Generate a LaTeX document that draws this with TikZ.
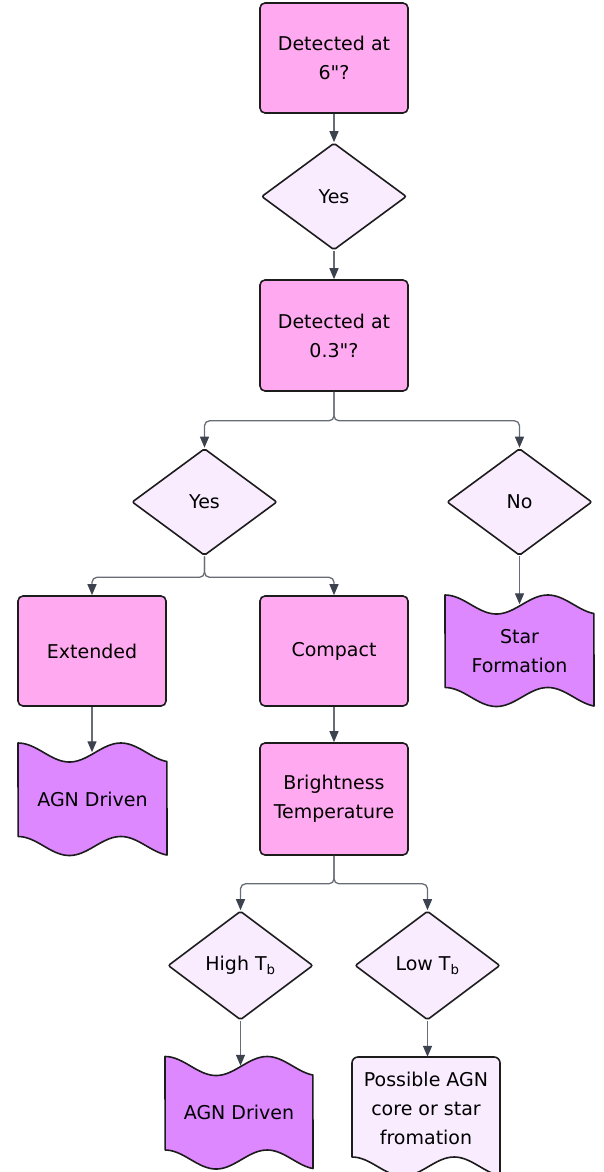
\documentclass[tikz,border=0pt]{standalone}
\usepackage{fontspec}
\setmainfont{DejaVu Sans}
\usetikzlibrary{arrows.meta,shapes.geometric}
\definecolor{boxPink}{RGB}{255,170,240}
\definecolor{choiceLilac}{RGB}{249,236,255}
\definecolor{endPurple}{RGB}{221,136,255}
\definecolor{edgeGrey}{RGB}{104,108,116}
\definecolor{tipGrey}{RGB}{60,66,78}
\definecolor{outline}{RGB}{28,28,28}

% paper tape: left, right, top wave centre, bottom wave centre, fill
\newcommand\tapeshape[5]{%
  \filldraw[tapeline, fill=#5]
    plot[domain=0:1, samples=60, variable=\t] ({#1+\t*(#2-#1)},{#3-9.5*cos(360*\t/0.69)})
    -- plot[domain=1:0, samples=60, variable=\t] ({#1+\t*(#2-#1)},{#4-9.5*cos(360*\t/0.69)})
    -- cycle;}

\begin{document}
\begin{tikzpicture}[x=1pt, y=-1pt, >={Triangle[length=11pt,width=9pt,color=tipGrey]},
  font=\fontsize{19}{29}\selectfont,
  qbox/.style={rounded corners=5pt, draw=outline, line width=1.6pt, fill=boxPink,
     minimum width=148pt, minimum height=110pt, align=center},
  choice/.style={diamond, rounded corners=2pt, draw=outline, line width=1.6pt, fill=choiceLilac,
     minimum width=145pt, minimum height=107pt, inner sep=0pt},
  tapeline/.style={draw=outline, line width=1.6pt, line join=round},
  tapetext/.style={align=center, minimum width=148pt, inner sep=0pt},
  flow/.style={->, line width=1.3pt, edgeGrey, rounded corners=5pt}]
  \useasboundingbox (0,0) rectangle (603,1172);

  % end shapes
  \tapeshape{18}{167}{752.5}{846}{endPurple}
  \tapeshape{445}{594}{604.5}{697}{endPurple}
  \tapeshape{165}{313}{1066}{1159.5}{endPurple}
  \filldraw[tapeline, fill=choiceLilac] (352,1157) -- (352,1063) arc[start angle=180, end angle=90, radius=6pt]
    -- (494,1057) arc[start angle=90, end angle=0, radius=6pt]
    -- plot[domain=1:0, samples=60, variable=\t] ({352+\t*148},{1166.5-9.5*cos(360*\t/0.69)}) -- cycle;

  \node[qbox]   (det6)  at (334,58)    {Detected at\\6\textquotedbl?};
  \node[choice] (yes1)  at (334,196.5) {Yes};
  \node[qbox, minimum height=111pt] (det03) at (334,335.5) {Detected at\\0.3\textquotedbl?};
  \node[choice] (yes2)  at (204.5,502) {Yes};
  \node[choice] (no)    at (519.5,502) {No};
  \node[qbox]   (ext)   at (92,651)    {Extended};
  \node[qbox]   (cmp)   at (334,651)   {Compact};
  \node[tapetext, minimum height=92.5pt] (star) at (519.5,650.75) {Star\\Formation};
  \node[tapetext, minimum height=93.5pt] (agn1) at (92.5,799.25)  {AGN Driven};
  \node[qbox, minimum height=112pt] (bright) at (334,799) {Brightness\\Temperature};
  \node[choice, minimum height=109pt] (high) at (240.5,965.5) {High T\textsubscript{b}};
  \node[choice, minimum height=109pt] (low)  at (427.5,965.5) {Low T\textsubscript{b}};
  \node[tapetext, minimum height=93.5pt] (agn2) at (239,1112.75) {AGN Driven};
  \node[tapetext, minimum height=102pt]  (poss) at (426,1108)    {Possible AGN\\core or star\\fromation};

  \draw[flow] (det6) -- (yes1);
  \draw[flow] (yes1) -- (det03);
  \draw[flow] (det03.south) -- ++(0,29) -| (yes2.north);
  \draw[flow] (det03.south) -- ++(0,29) -| (no.north);
  \draw[flow] (yes2.south) -- ++(0,21) -| (ext.north);
  \draw[flow] (yes2.south) -- ++(0,21) -| (cmp.north);
  \draw[flow] (no) -- (star);
  \draw[flow] (ext.south) -- (ext.south |- agn1.north);
  \draw[flow] (cmp) -- (bright);
  \draw[flow] (bright.south) -- ++(0,28) -| (high.north);
  \draw[flow] (bright.south) -- ++(0,28) -| (low.north);
  \draw[flow] (high.south) -- (high.south |- agn2.north);
  \draw[flow] (low.south) -- (low.south |- poss.north);
\end{tikzpicture}
\end{document}
